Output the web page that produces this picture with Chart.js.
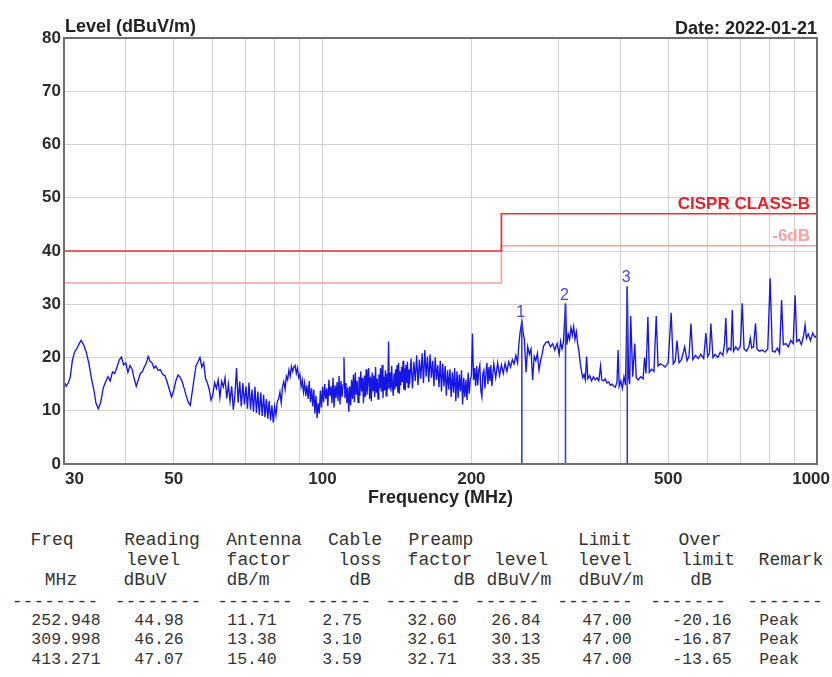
<!DOCTYPE html>
<html><head><meta charset="utf-8">
<script src="https://cdn.jsdelivr.net/npm/chart.js@4.4.1/dist/chart.umd.min.js"></script>
<style>
html,body{margin:0;padding:0;background:#fff;width:832px;height:677px;overflow:hidden;}
#wrap{position:relative;width:832px;height:677px;}
canvas{position:absolute;left:0;top:0;}
.hdr{position:absolute;font:bold 18px "Liberation Sans",Arial,sans-serif;color:#222;line-height:20px;white-space:nowrap;}
.cell{position:absolute;font-family:"Liberation Mono","DejaVu Sans Mono",monospace;color:#333;line-height:20px;white-space:pre;transform:translateX(-50%);}
.th{font-size:18px;}
.td{font-size:16.5px;}
</style></head><body>
<div id="wrap">
<canvas id="c" width="832" height="513"></canvas>
<div class="hdr" style="left:65px;top:16px">Level (dBuV/m)</div>
<div class="hdr" style="right:15px;top:18px">Date: 2022-01-21</div>
<div id="table"></div>
</div>
<script>
// ---------- data ----------
const traceFreq = [
 30,30.3,30.6,30.9,31.2,31.5,31.9,32.2,32.5,32.9,
 33.3,33.7,34.1,34.5,34.8,35.2,35.6,36,36.4,36.8,
 37.2,37.6,38,38.4,38.8,39.2,39.6,40,40.4,40.8,
 41.2,41.6,42,42.4,42.8,43.2,43.6,44,44.4,44.8,
 45.2,45.6,46,46.5,47,47.5,48,48.5,49,49.5,
 50,50.5,51,51.5,52,52.5,53,53.5,54,54.5,
 55,55.5,56,56.5,57,57.5,58,58.5,59,59.5,
 60,60.5,61,61.5,62,62.5,63,63.5,64,64.5,
 65,65.5,66,66.5,67,67.5,68,68.5,69,69.5,
 70,70.5,71,71.5,72,72.5,73,73.5,74,74.5,
 75,75.5,76,76.5,77,77.5,78,78.5,79,79.5,
 80,80.5,81,81.5,82,82.5,83,83.5,84,84.5,
 85,85.5,86,86.5,87,87.5,88,88.5,89,89.5,
 90,90.5,91,91.5,92,92.5,93,93.5,94,94.5,
 95,95.5,96,96.5,97,97.5,98,98.5,99,99.5,
 100,100.5,101,101.5,102,102.5,103,103.5,104,104.5,
 105,105.5,106,106.5,107,107.5,108,108.5,109,109.5,
 110,110.5,111,111.5,112,112.5,113,113.5,114,114.5,
 115,115.5,116,116.5,117,117.5,118,118.5,119,119.5,
 120,120.5,121,121.5,122,122.5,123,123.5,124,124.5,
 125,125.5,126,126.5,127,127.5,128,128.5,129,129.5,
 130,130.5,131,131.5,132,132.5,133,133.5,134,134.5,
 135,135.5,136,136.5,137,137.5,138,138.5,139,139.5,
 140,140.5,141,141.5,142,142.5,143,143.5,144,144.5,
 145,145.5,146,146.5,147,147.5,148,148.5,149,149.5,
 150,151,152,153,154,155,156,157,158,159,
 160,161,162,163,164,165,166,167,168,169,
 170,171,172,173,174,175,176,177,178,179,
 180,181,182,183,184,185,186,187,188,189,
 190,191,192,193,194,195,196,197,198,199,
 200,201,202,203,204,205,206,207,208,209,
 210,211,212,213,214,215,216,217,218,219,
 220,222,224,226,228,230,232,234,236,238,
 240,242,244,246,248,249.5,251,252.948,254.5,256,
 258,260,262,264,266,268,270,272,274,276,
 278,280,283,286,289,292,295,298,301,303,
 305,307,309.998,312,314,316,318,320,322,324,
 326,328,330,332,334,336,338,340,342,344,
 347,350,353,356,359,362,365,367,370,373,
 376,379,382,385,388,391,394,396,398,401,
 404,407,410,413.271,416,418,420,424,428,431,
 435,440,445,448,451,455,458,463,468,473,
 477,482,487,493,500,507,512,517,521,526,
 532,540,546,551,556,561,568,575,582,590,
 596,601,606,610,616,622,630,637,645,650,
 654,658,664,670,674,678,685,692,700,706,
 712,720,728,733,738,744,751,756,765,775,
 785,795,804,812,822,832,840,848,855,865,
 875,885,895,903,910,920,930,940,946,952,
 960,970,980,990,1000
];
const traceLevel = [
 15.5,14.6,15.2,16.4,19.5,21.0,21.8,22.6,23.2,22.3,
 20.9,18.8,16.0,13.8,11.5,10.4,11.6,14.2,15.4,16.4,
 15.6,17.3,17.0,18.2,19.5,20.1,18.6,19.0,17.2,18.5,
 17.8,16.0,14.6,15.8,17.0,17.3,18.2,18.9,20.2,19.3,
 19.0,18.0,18.4,17.6,17.7,16.8,16.6,15.4,14.0,12.6,
 13.8,15.6,16.7,16.3,15.5,14.2,12.8,11.6,11.0,13.5,
 16.1,18.5,19.2,20.0,18.2,19.0,16.0,15.2,14.0,12.0,
 13.0,15.3,14.2,15.8,12.5,15.5,14.5,16.2,12.3,15.0,
 11.8,14.6,10.2,13.0,18.0,11.5,15.5,10.8,15.2,11.2,
 14.6,10.4,15.3,10.2,14.0,9.8,14.5,9.6,13.6,9.2,
 13.4,9.0,13.0,8.8,12.2,8.5,11.8,8.2,11.0,7.8,
 10.8,9.2,11.8,12.2,13.5,11.5,14.6,15.5,14.0,16.5,
 15.8,17.6,16.5,18.3,17.4,18.2,18.5,17.0,18.0,16.2,
 16.8,14.5,15.7,13.5,15.2,12.8,14.8,12.2,15.6,11.6,
 14.2,10.8,14.0,9.5,12.8,8.6,11.4,9.5,13.8,10.6,
 14.5,11.6,15.0,12.2,14.2,10.9,15.8,12.8,14.6,11.4,
 16.2,10.6,14.8,12.4,15.4,11.8,16.5,11.2,15.6,12.6,
 14.8,20.0,12.4,15.2,11.4,14.4,9.8,14.6,11.0,15.8,
 12.2,16.8,11.6,17.2,13.0,15.6,11.6,16.4,12.8,17.4,
 13.6,16.2,11.4,16.6,12.6,17.8,13.0,15.4,18.0,12.2,
 16.4,11.8,17.2,13.8,16.6,12.6,18.2,13.4,16.0,12.2,
 16.8,14.2,18.0,13.6,18.6,12.4,16.4,13.8,17.6,12.8,
 17.0,14.0,23.0,14.2,17.2,13.6,18.4,14.6,12.8,17.0,
 14.0,17.8,14.5,18.6,13.4,19.0,13.2,17.4,14.8,18.2,
 15.4,19.4,14.0,18.0,13.8,18.6,15.2,19.2,14.4,17.8,
 15.0,19.8,14.2,19.2,15.6,20.4,14.8,19.6,16.0,20.8,
 15.2,21.4,16.4,20.2,15.4,20.6,16.2,19.4,14.6,20.0,
 15.8,18.6,14.4,19.4,13.6,18.8,14.6,18.4,12.8,17.6,
 14.0,17.8,12.6,17.2,13.4,18.0,11.8,17.4,12.4,16.8,
 13.6,17.6,11.2,16.2,12.6,15.8,12.0,17.2,13.2,16.0,
 16.5,24.5,15.8,18.0,14.6,18.4,14.8,17.6,18.6,13.8,
 12.6,17.0,17.6,14.2,16.8,19.0,15.0,18.2,15.6,18.6,
 14.6,18.8,16.2,19.0,16.6,18.6,17.0,18.9,17.4,19.2,
 18.2,19.6,18.8,20.4,19.0,22.5,24.8,26.84,24.6,23.4,
 17.2,22.0,20.6,21.6,15.8,20.2,19.4,20.8,17.6,19.4,
 20.6,22.2,22.8,23.0,22.0,22.6,21.4,22.6,20.6,23.0,
 21.6,22.8,30.13,22.4,24.4,23.4,25.6,24.2,25.8,23.4,
 24.8,22.6,21.2,19.0,17.4,16.2,16.8,15.8,20.2,16.0,
 16.6,15.6,16.4,15.8,16.2,15.6,18.4,15.8,15.6,16.0,
 15.2,15.4,14.8,15.0,14.6,14.4,15.4,21.4,14.6,15.6,
 14.2,16.4,14.8,33.35,16.2,15.0,27.8,16.4,22.6,16.2,
 15.8,16.4,16.0,20.0,17.0,27.6,17.2,17.8,17.4,27.8,
 18.4,18.8,18.6,18.2,19.0,28.4,18.8,19.4,23.2,19.0,
 19.6,22.0,19.4,20.2,26.4,19.6,20.4,19.8,20.6,19.8,
 24.6,20.2,20.8,26.4,20.0,20.6,20.0,21.0,20.4,22.6,
 27.4,21.0,21.8,21.4,28.9,21.2,22.0,21.4,22.2,30.2,
 21.6,21.2,22.0,23.6,21.8,22.0,26.4,21.6,21.2,21.4,
 21.0,21.6,34.9,21.2,21.0,21.8,20.8,30.8,22.4,22.6,
 22.0,23.2,22.6,31.7,23.0,23.4,22.4,24.2,26.1,23.6,
 24.4,23.2,24.6,23.8,24.2
];
const limitFreq = [30, 230, 230, 1000];
const limitLevel = [40, 40, 47, 47];
const marginLevel = [34, 34, 41, 41];
const limitNames = ['CISPR CLASS-B', '-6dB'];
const markerFreq = [252.948, 309.998, 413.271];
const markerLevel = [26.84, 30.13, 33.35];
const markerLabels = ['1', '2', '3'];
const xGridMHz = [30,40,50,60,70,80,90,100,200,300,400,500,600,700,800,900,1000];
const xTickLabels = [30, 50, 100, 200, 500, 1000];
// table values
const readingLevel = [44.98, 46.26, 47.07];
const antennaFactor = [11.71, 13.38, 15.40];
const cableLoss = [2.75, 3.10, 3.59];
const preampFactor = [32.60, 32.61, 32.71];
const limitAtPeak = [47.00, 47.00, 47.00];
const overLimit = [-20.16, -16.87, -13.65];
const remarks = ['Peak', 'Peak', 'Peak'];

// ---------- chart ----------
const SANS = '"Liberation Sans", Arial, sans-serif';
const pts = (xs, ys) => xs.map((v, i) => ({x: v, y: ys[i]}));
const markerSets = markerFreq.map((f, i) => ({
  data: [{x: f, y: markerLevel[i]}, {x: f, y: 0}],
  borderColor: '#3d3dd2', borderWidth: 1.6, pointRadius: 0, tension: 0
}));

const overlay = {
  id: 'overlay',
  afterDatasetsDraw(chart) {
    const {ctx, chartArea: a, scales: {x, y}} = chart;
    ctx.save();
    ctx.strokeStyle = '#6f6f6f'; ctx.lineWidth = 2;
    ctx.strokeRect(a.left, a.top, a.right - a.left, a.bottom - a.top);
    ctx.font = 'bold 17px ' + SANS;
    ctx.fillStyle = '#2a2a2a'; ctx.textBaseline = 'top'; ctx.textAlign = 'left';
    xTickLabels.forEach(v => {
      const t = String(v);
      const w = ctx.measureText(t).width;
      let left = x.getPixelForValue(v) - w / 2;
      left = Math.max(a.left + 1, Math.min(left, chart.width - 2 - w));
      ctx.fillText(t, left, a.bottom + 7);
    });
    ctx.textAlign = 'right'; ctx.textBaseline = 'alphabetic';
    ctx.font = 'bold 17px ' + SANS;
    ctx.fillStyle = '#e3222c';
    ctx.fillText(limitNames[0], a.right - 7, y.getPixelForValue(limitLevel[3]) - 5);
    ctx.fillStyle = '#f3a3a3';
    ctx.fillText(limitNames[1], a.right - 7, y.getPixelForValue(marginLevel[3]) - 5);
    ctx.font = '16px ' + SANS;
    ctx.fillStyle = '#4848cc'; ctx.textAlign = 'center';
    markerFreq.forEach((f, i) => {
      ctx.fillText(markerLabels[i], x.getPixelForValue(f) - 1, y.getPixelForValue(markerLevel[i]) - 4);
    });
    ctx.restore();
  }
};

new Chart(document.getElementById('c'), {
  type: 'line',
  data: {
    datasets: [
      ...markerSets,
      {data: pts(traceFreq, traceLevel), borderColor: '#1616e2', borderWidth: 1.35, pointRadius: 0, tension: 0},
      {data: pts(limitFreq, limitLevel), borderColor: '#e3323a', borderWidth: 1.7, pointRadius: 0, tension: 0},
      {data: pts(limitFreq, marginLevel), borderColor: '#f2a0a0', borderWidth: 1.6, pointRadius: 0, tension: 0}
    ]
  },
  options: {
    responsive: false, animation: false, events: [],
    layout: {padding: {top: 38, right: 15, left: 0, bottom: 0}},
    plugins: {legend: {display: false}, tooltip: {enabled: false}},
    scales: {
      x: {
        type: 'logarithmic', min: 30, max: 1000,
        afterBuildTicks: s => { s.ticks = xGridMHz.map(v => ({value: v})); },
        afterFit: s => { s.height = 49; },
        grid: {color: '#d2d2d2', lineWidth: 1, drawTicks: false},
        border: {color: '#6f6f6f', width: 2},
        ticks: {display: false},
        title: {display: true, text: 'Frequency (MHz)', color: '#222',
                font: {family: SANS, size: 18, weight: 'bold'}, padding: {top: 0, bottom: 4}}
      },
      y: {
        min: 0, max: 80,
        afterFit: s => { s.width = 64; },
        grid: {color: '#d2d2d2', lineWidth: 1, drawTicks: false},
        border: {color: '#6f6f6f', width: 2},
        ticks: {stepSize: 10, color: '#2a2a2a', padding: 3,
                font: {family: SANS, size: 17, weight: 'bold'}}
      }
    }
  },
  plugins: [overlay]
});

// ---------- table ----------
const colCenter = [66, 159, 252, 342, 432, 516, 607, 702, 779];
const rowsY = {h1: 540, h2: 560, h3: 580, dash: 602, data: [621, 640, 660]};
const headerCells = [
  [rowsY.h1, [['Freq',52],['Reading',162],['Antenna',264],['Cable',355],['Preamp',441],['Limit',605],['Over',700]]],
  [rowsY.h2, [['level',153],['factor',259],['loss',360],['factor',440],['level',521],['level',605],['limit',708],['Remark',791]]],
  [rowsY.h3, [['MHz',61],['dBuV',145],['dB/m',248],['dB',360],['dB',464],['dBuV/m',519],['dBuV/m',611],['dB',701]]]
];
const dashCells = [['--------',55],['--------',158],['-------',255],['------',339],['-------',423],['------',507],['-------',595],['-------',688],['-------',785]];
const tbl = document.getElementById('table');
function addCell(text, cx, cy, cls) {
  const d = document.createElement('div');
  d.className = 'cell ' + cls;
  d.textContent = text;
  d.style.left = cx + 'px';
  d.style.top = (cy - 10) + 'px';
  tbl.appendChild(d);
}
headerCells.forEach(([cy, cells]) => cells.forEach(([t, c]) => addCell(t, c, cy, 'th')));
dashCells.forEach(([t, c]) => addCell(t, c, rowsY.dash, 'th'));
markerFreq.forEach((f, i) => {
  const vals = [f.toFixed(3), readingLevel[i].toFixed(2), antennaFactor[i].toFixed(2), cableLoss[i].toFixed(2),
                preampFactor[i].toFixed(2), markerLevel[i].toFixed(2), limitAtPeak[i].toFixed(2),
                overLimit[i].toFixed(2), remarks[i]];
  vals.forEach((t, j) => addCell(t, colCenter[j], rowsY.data[i], 'td'));
});
</script>
</body></html>
